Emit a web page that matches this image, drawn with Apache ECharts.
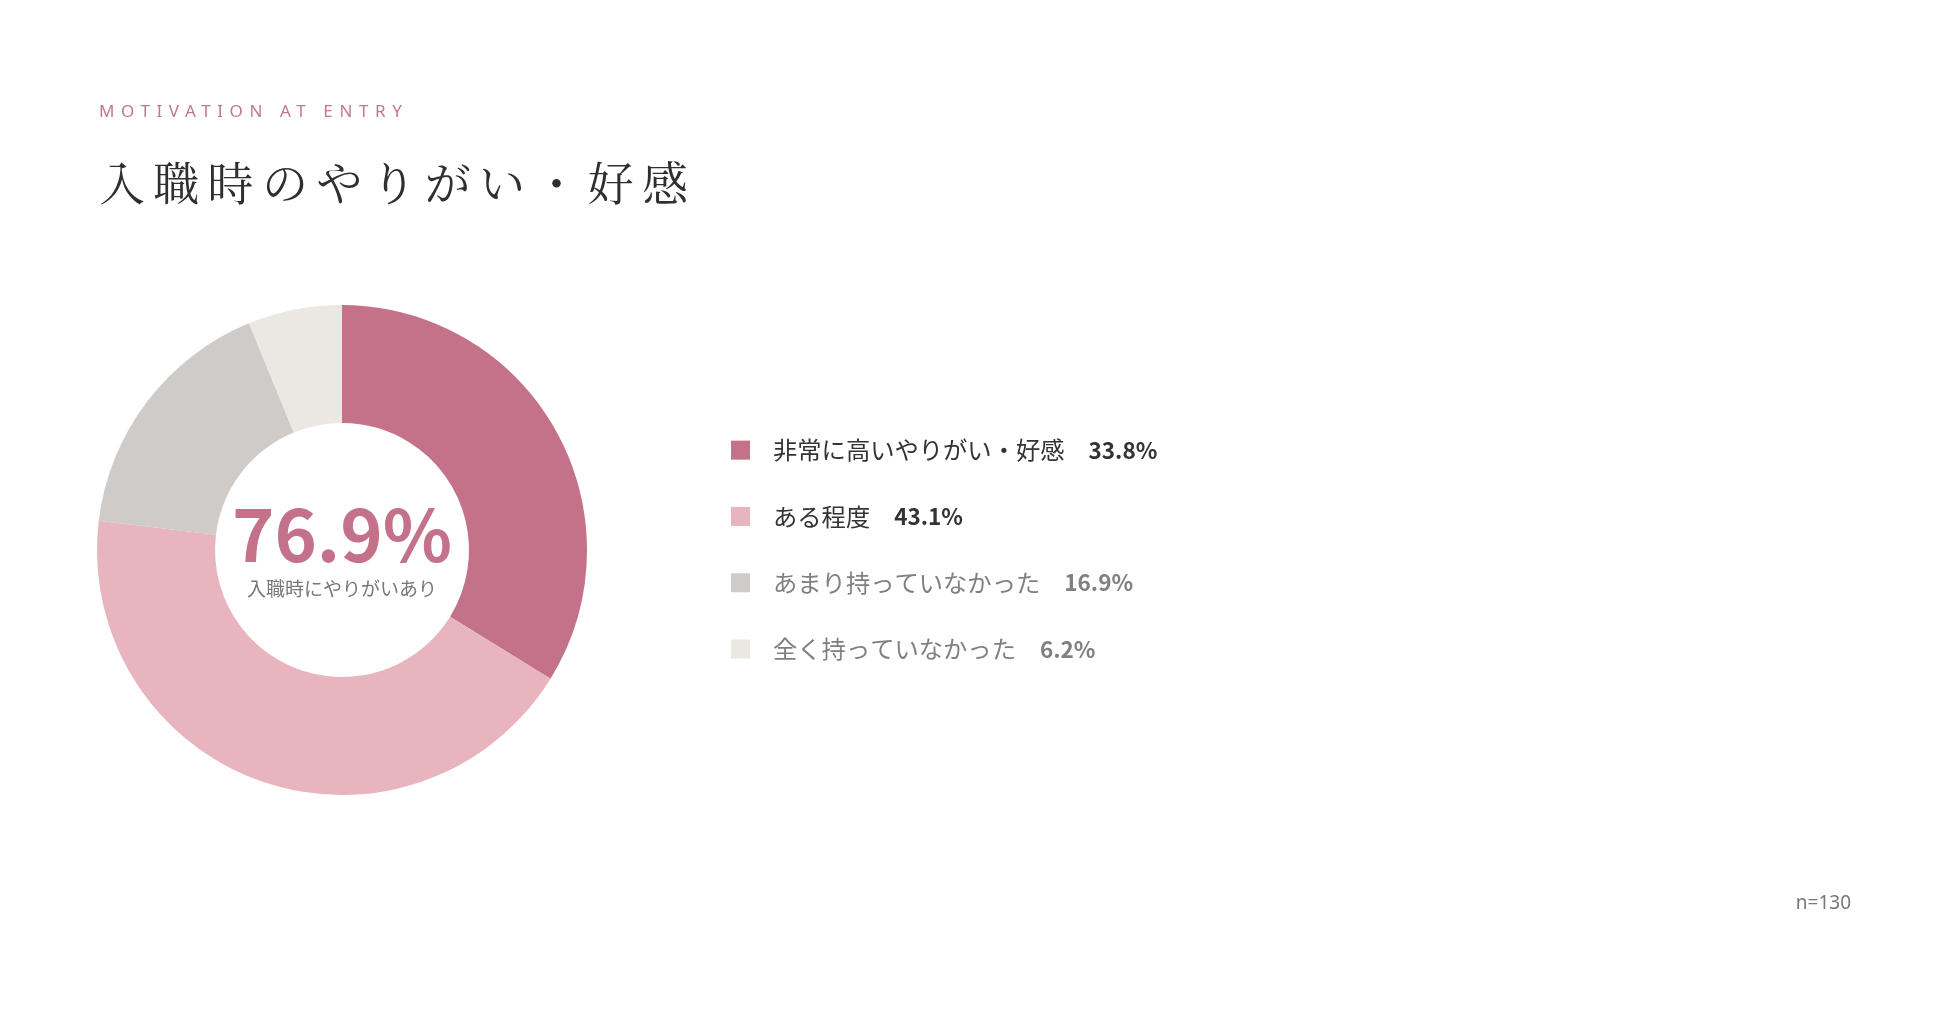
<!DOCTYPE html>
<html lang="ja">
<head>
<meta charset="utf-8">
<script src="https://cdn.jsdelivr.net/npm/echarts@6/dist/echarts.min.js"></script>
<style>
  html, body { margin: 0; padding: 0; background: #ffffff; }
  #wrap { position: relative; width: 1950px; height: 1021px; }
  #chart { position: absolute; left: 0; top: 0; width: 1950px; height: 1021px; }
  .kicker { position: absolute; left: 99px; top: 99px; font-family: "Noto Sans", "Lato", sans-serif; font-size: 17px; letter-spacing: 6.6px; color: #c27791; white-space: nowrap; line-height: 24px; }
  .headline { position: absolute; left: 99px; top: 150px; font-family: "Noto Serif CJK JP", "Noto Sans CJK JP", serif; font-size: 46px; font-weight: 400; letter-spacing: 8.3px; color: #2f2f2f; white-space: nowrap; line-height: 60px; }
</style>
</head>
<body>
<div id="wrap">
  <div id="chart"></div>
  <div class="kicker">MOTIVATION AT ENTRY</div>
  <div class="headline">入職時のやりがい・好感</div>
</div>
<script>
const categories = ['非常に高いやりがい・好感', 'ある程度', 'あまり持っていなかった', '全く持っていなかった'];
const values = [33.8, 43.1, 16.9, 6.2];
const colors = ['#c4728a', '#e8b5be', '#cecbc8', '#ebe8e4'];
const centerCaption = '入職時にやりがいあり';
const sampleNote = 'n=130';

const positiveShare = (values[0] * 10 + values[1] * 10) / 10;

const chart = echarts.init(document.getElementById('chart'), null, { renderer: 'canvas' });

const option = {
  backgroundColor: '#ffffff',
  animation: false,
  color: colors,
  legend: {
    orient: 'vertical',
    left: 731,
    top: 438,
    padding: 0,
    itemWidth: 19,
    itemHeight: 19,
    itemGap: 42,
    icon: 'rect',
    selectedMode: false,
    data: categories,
    formatter: function (name) {
      const i = categories.indexOf(name);
      const dark = i < 2;
      return '{' + (dark ? 'n1' : 'n2') + '|' + name + '}{' + (dark ? 'v1' : 'v2') + '|' + values[i].toFixed(1) + '%}';
    },
    textStyle: {
      fontFamily: 'Noto Sans CJK JP',
      fontSize: 24,
      rich: {
        n1: { fontFamily: 'Noto Sans CJK JP', fontSize: 24.3, color: '#333333', padding: [0, 24, 0, 18], lineHeight: 36 },
        v1: { fontFamily: 'Noto Sans CJK JP', fontSize: 22.5, fontWeight: 'bold', color: '#333333', lineHeight: 36 },
        n2: { fontFamily: 'Noto Sans CJK JP', fontSize: 24.3, color: '#808080', padding: [0, 24, 0, 18], lineHeight: 36 },
        v2: { fontFamily: 'Noto Sans CJK JP', fontSize: 22.5, fontWeight: 'bold', color: '#808080', lineHeight: 36 }
      }
    }
  },
  series: [{
    type: 'pie',
    center: [342, 550],
    radius: [127, 245],
    startAngle: 90,
    clockwise: true,
    silent: true,
    label: { show: false },
    labelLine: { show: false },
    itemStyle: { borderWidth: 0 },
    emphasis: { disabled: true },
    data: categories.map((c, i) => ({ name: c, value: values[i], itemStyle: { color: colors[i] } }))
  }],
  graphic: [
    {
      type: 'text',
      style: {
        text: positiveShare.toFixed(1) + '%',
        x: 342, y: 535,
        align: 'center',
        verticalAlign: 'middle',
        fontFamily: 'Noto Sans CJK JP',
        fontWeight: 'bold',
        fontSize: 72,
        fill: '#c4728a'
      }
    },
    {
      type: 'text',
      style: {
        text: centerCaption,
        x: 342, y: 589,
        align: 'center',
        verticalAlign: 'middle',
        fontFamily: 'Noto Sans CJK JP',
        fontSize: 19,
        fill: '#777777'
      }
    },
    {
      type: 'text',
      style: {
        text: sampleNote,
        x: 1851, y: 904,
        align: 'right',
        verticalAlign: 'middle',
        fontFamily: 'Noto Sans',
        fontSize: 19,
        fill: '#777777'
      }
    }
  ]
};
chart.setOption(option);
</script>
</body>
</html>
